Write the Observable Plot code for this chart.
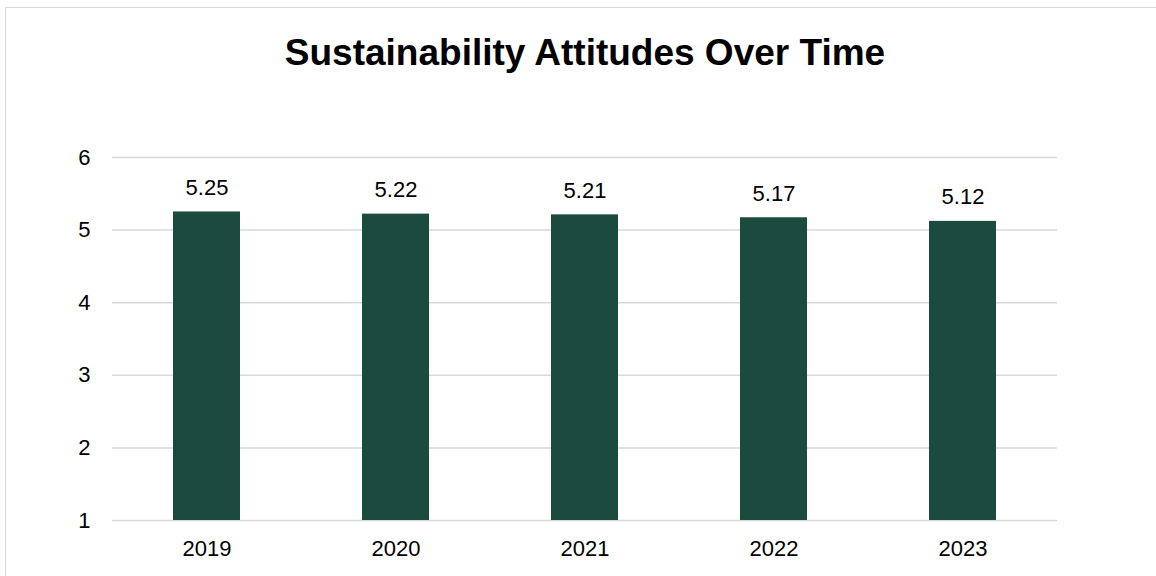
<!DOCTYPE html>
<html>
<head>
<meta charset="utf-8">
<script src="https://cdn.jsdelivr.net/npm/d3@7"></script>
<script src="https://cdn.jsdelivr.net/npm/@observablehq/plot@0.6"></script>
<style>
  html, body { margin: 0; padding: 0; background: #fff; width: 1156px; height: 576px; overflow: hidden; }
  #frame { position: absolute; left: 5px; top: 7px; width: 1170px; height: 600px; border: 1.5px solid #d9d9d9; box-sizing: border-box; }
  #title { position: absolute; left: 0; width: 1170px; top: 32px; text-align: center; font-family: "Liberation Sans", Arial, sans-serif; font-weight: bold; font-size: 37px; color: #000; line-height: 42px; }
  #chart { position: absolute; left: 0; top: 100px; }
  #chart svg { font-family: "Liberation Sans", Arial, sans-serif; }
</style>
</head>
<body>
<div id="frame"></div>
<div id="title">Sustainability Attitudes Over Time</div>
<div id="chart"></div>
<script>
const years = ["2019", "2020", "2021", "2022", "2023"];
const scores = [5.25, 5.22, 5.21, 5.17, 5.12];
const yTicks = [1, 2, 3, 4, 5, 6];

const data = years.map((y, i) => ({year: y, score: scores[i]}));

const chart = Plot.plot({
  width: 1156,
  height: 476,
  marginTop: 57,
  marginBottom: 56,
  marginLeft: 112,
  marginRight: 99,
  style: {fontSize: "22px", fontFamily: "Liberation Sans, Arial, sans-serif", color: "#000", background: "transparent"},
  x: {domain: years, paddingInner: 0.645, paddingOuter: 0.3225, label: null},
  y: {domain: [1, 6], label: null},
  marks: [
    Plot.gridY(yTicks, {stroke: "#d9d9d9", strokeOpacity: 1, strokeWidth: 1.5}),
    Plot.barY(data, {x: "year", y1: 1, y2: "score", fill: "#1b4a3e"}),
    Plot.text(data, {x: "year", y: "score", text: d => d.score.toFixed(2), dy: -24, fontSize: 22, fill: "#000"}),
    Plot.axisX({tickSize: 0, tickPadding: 20, fontSize: 22, label: null}),
    Plot.axisY(yTicks, {tickSize: 0, tickPadding: 22, fontSize: 22, label: null, tickFormat: d3.format("d")})
  ]
});
document.getElementById("chart").appendChild(chart);
</script>
</body>
</html>
